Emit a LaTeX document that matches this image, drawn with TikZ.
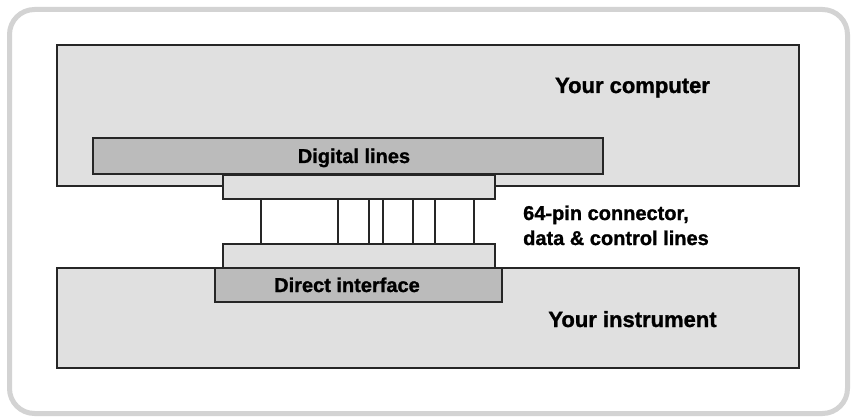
\documentclass[tikz,border=0pt]{standalone}
\usepackage{fontspec}
\setmainfont{Liberation Sans}[BoldFeatures={FakeBold=1.2}]
\definecolor{framegray}{HTML}{D3D3D3}
\definecolor{lightfill}{HTML}{E0E0E0}
\definecolor{darkfill}{HTML}{BBBBBB}
\definecolor{edge}{HTML}{262626}
\begin{document}
\begin{tikzpicture}[x=1pt,y=-1pt,
  box/.style={draw=edge,line width=1.3pt,inner sep=0pt,outer sep=0pt,anchor=north west},
  lightbox/.style={box,fill=lightfill},
  darkbox/.style={box,fill=darkfill},
  biglabel/.style={font=\bfseries\fontsize{22}{26}\selectfont,anchor=base,inner sep=0pt},
  label/.style={font=\bfseries\fontsize{20}{25}\selectfont,anchor=base,inner sep=0pt},
  pin/.style={draw=edge,line width=1.5pt}]
\useasboundingbox (0,0) rectangle (852,417);
\draw[framegray,line width=5pt,rounded corners=25pt] (9.5,9.5) rectangle (847.5,413.5);
% main boxes
\node[lightbox,minimum width=742pt,minimum height=141pt] (comp) at (57,45) {};
\node[lightbox,minimum width=742pt,minimum height=100pt] (inst) at (57,268) {};
\node[darkbox,minimum width=510pt,minimum height=36pt] (dig) at (93,138) {};
\node[darkbox,minimum width=287pt,minimum height=34pt] (dir) at (215,268) {};
% connector plates
\node[lightbox,minimum width=272pt,minimum height=24pt] (tp) at (223,175) {};
\node[lightbox,minimum width=272pt,minimum height=24pt] (bp) at (223,244) {};
% pins
\foreach \px in {261,338,369,383,413,435,474}
  \draw[pin] (\px,0 |- tp.south) -- (\px,0 |- bp.north);
% labels
\node[biglabel] (lcomp) at (632.5,93) {Your computer};
\node[biglabel] (linst) at (632.5,327) {Your instrument};
\node[label] (ldig) at (354,163) {Digital lines};
\node[label] (ldir) at (347,292) {Direct interface};
\node[label,anchor=base west] (lcon1) at (523,220) {64-pin connector,};
\node[label,anchor=base west] (lcon2) at (523,245) {data \& control lines};
\end{tikzpicture}
\end{document}
